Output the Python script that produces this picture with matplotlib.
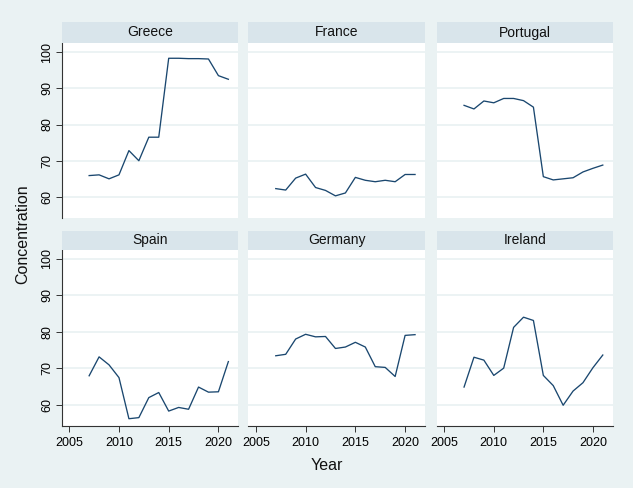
import numpy as np
import matplotlib
matplotlib.use('Agg')
import matplotlib.pyplot as plt

plt.rcParams['font.family'] = ['Liberation Sans', 'DejaVu Sans']

# data (concentration by year, 2007-2021)
years = list(range(2007, 2022))
countries = ['Greece', 'France', 'Portugal', 'Spain', 'Germany', 'Ireland']
greece = [65.9, 66.1, 65.0, 66.1, 72.8, 70.0, 76.5, 76.5, 98.3, 98.3, 98.2, 98.2, 98.1, 93.5, 92.5]
france = [62.3, 61.9, 65.2, 66.3, 62.6, 61.8, 60.3, 61.1, 65.4, 64.6, 64.2, 64.6, 64.2, 66.2, 66.2]
portugal = [85.3, 84.3, 86.5, 86.0, 87.2, 87.2, 86.6, 84.8, 65.6, 64.7, 65.0, 65.3, 66.9, 67.9, 68.8]
spain = [67.9, 73.1, 70.9, 67.4, 56.1, 56.4, 61.9, 63.3, 58.2, 59.2, 58.7, 64.8, 63.4, 63.5, 71.8]
germany = [73.4, 73.8, 78.0, 79.3, 78.6, 78.7, 75.4, 75.8, 77.1, 75.8, 70.4, 70.2, 67.7, 79.0, 79.2]
ireland = [64.8, 73.0, 72.2, 68.0, 70.0, 81.2, 84.0, 83.1, 68.0, 65.2, 59.8, 63.7, 66.0, 70.1, 73.6]
series = [greece, france, portugal, spain, germany, ireland]

yticks = [60, 70, 80, 90, 100]
xticks = [2005, 2010, 2015, 2020]

bg = '#EAF2F3'
strip_col = '#D9E5EB'
line_col = '#1A476F'

W, H = 633, 488
fig = plt.figure(figsize=(W / 100, H / 100), dpi=100, facecolor=bg)

cols = [(61.7, 238.3), (248.3, 425.0), (436.7, 612.7)]
rows = [(42.7, 218.3, 22.3), (249.5, 426.0, 231.0)]  # plot top, plot bottom, strip top


def frac(x0, x1, y0, y1):
    # pixel box (top-left origin) -> figure fraction rect
    return [x0 / W, 1 - y1 / H, (x1 - x0) / W, (y1 - y0) / H]


for i, (name, vals) in enumerate(zip(countries, series)):
    r, c = divmod(i, 3)
    x0, x1 = cols[c]
    ytop, ybot, stop = rows[r]
    ax = fig.add_axes(frac(x0, x1, ytop, ybot))
    ax.set_facecolor('white')
    ax.plot(years, vals, color=line_col, lw=0.95)
    ax.set_xlim(2004.24, 2022.0)
    ax.set_ylim(54.1, 102.6)
    ax.set_yticks(yticks)
    ax.set_xticks(xticks)
    ax.yaxis.grid(True, color=bg, lw=1.3)
    ax.set_axisbelow(True)
    for s in ['top', 'right']:
        ax.spines[s].set_visible(False)
    ax.spines['left'].set_visible(c == 0)
    ax.spines['bottom'].set_visible(r == 1)
    ax.spines['left'].set_linewidth(0.8)
    ax.spines['bottom'].set_linewidth(0.8)
    ax.spines['left'].set_color('#333333')
    ax.spines['bottom'].set_color('#333333')
    ax.tick_params(axis='y', left=(c == 0), labelleft=(c == 0), length=4, width=0.7,
                   color='#333333', labelsize=9, pad=2)
    ax.tick_params(axis='x', bottom=(r == 1), labelbottom=(r == 1), length=4, width=0.7,
                   color='#333333', labelsize=9, pad=4)
    for lab in ax.get_yticklabels():
        lab.set_rotation(90)
        lab.set_va('center')

    sax = fig.add_axes(frac(x0, x1, stop, ytop))
    sax.set_facecolor(strip_col)
    sax.set_xticks([])
    sax.set_yticks([])
    for s in sax.spines.values():
        s.set_visible(False)
    sax.text(0.5, 0.5, name, ha='center', va='center', fontsize=10, color='#111111',
             transform=sax.transAxes)

fig.text(22.5 / W, 1 - 234.5 / H, 'Concentration', rotation=90, ha='center', va='center',
         fontsize=11.5, color='#111111')
fig.text(326.5 / W, 1 - 465 / H, 'Year', ha='center', va='center', fontsize=11.5, color='#111111')

fig.savefig('out.png', dpi=100, facecolor=bg)
